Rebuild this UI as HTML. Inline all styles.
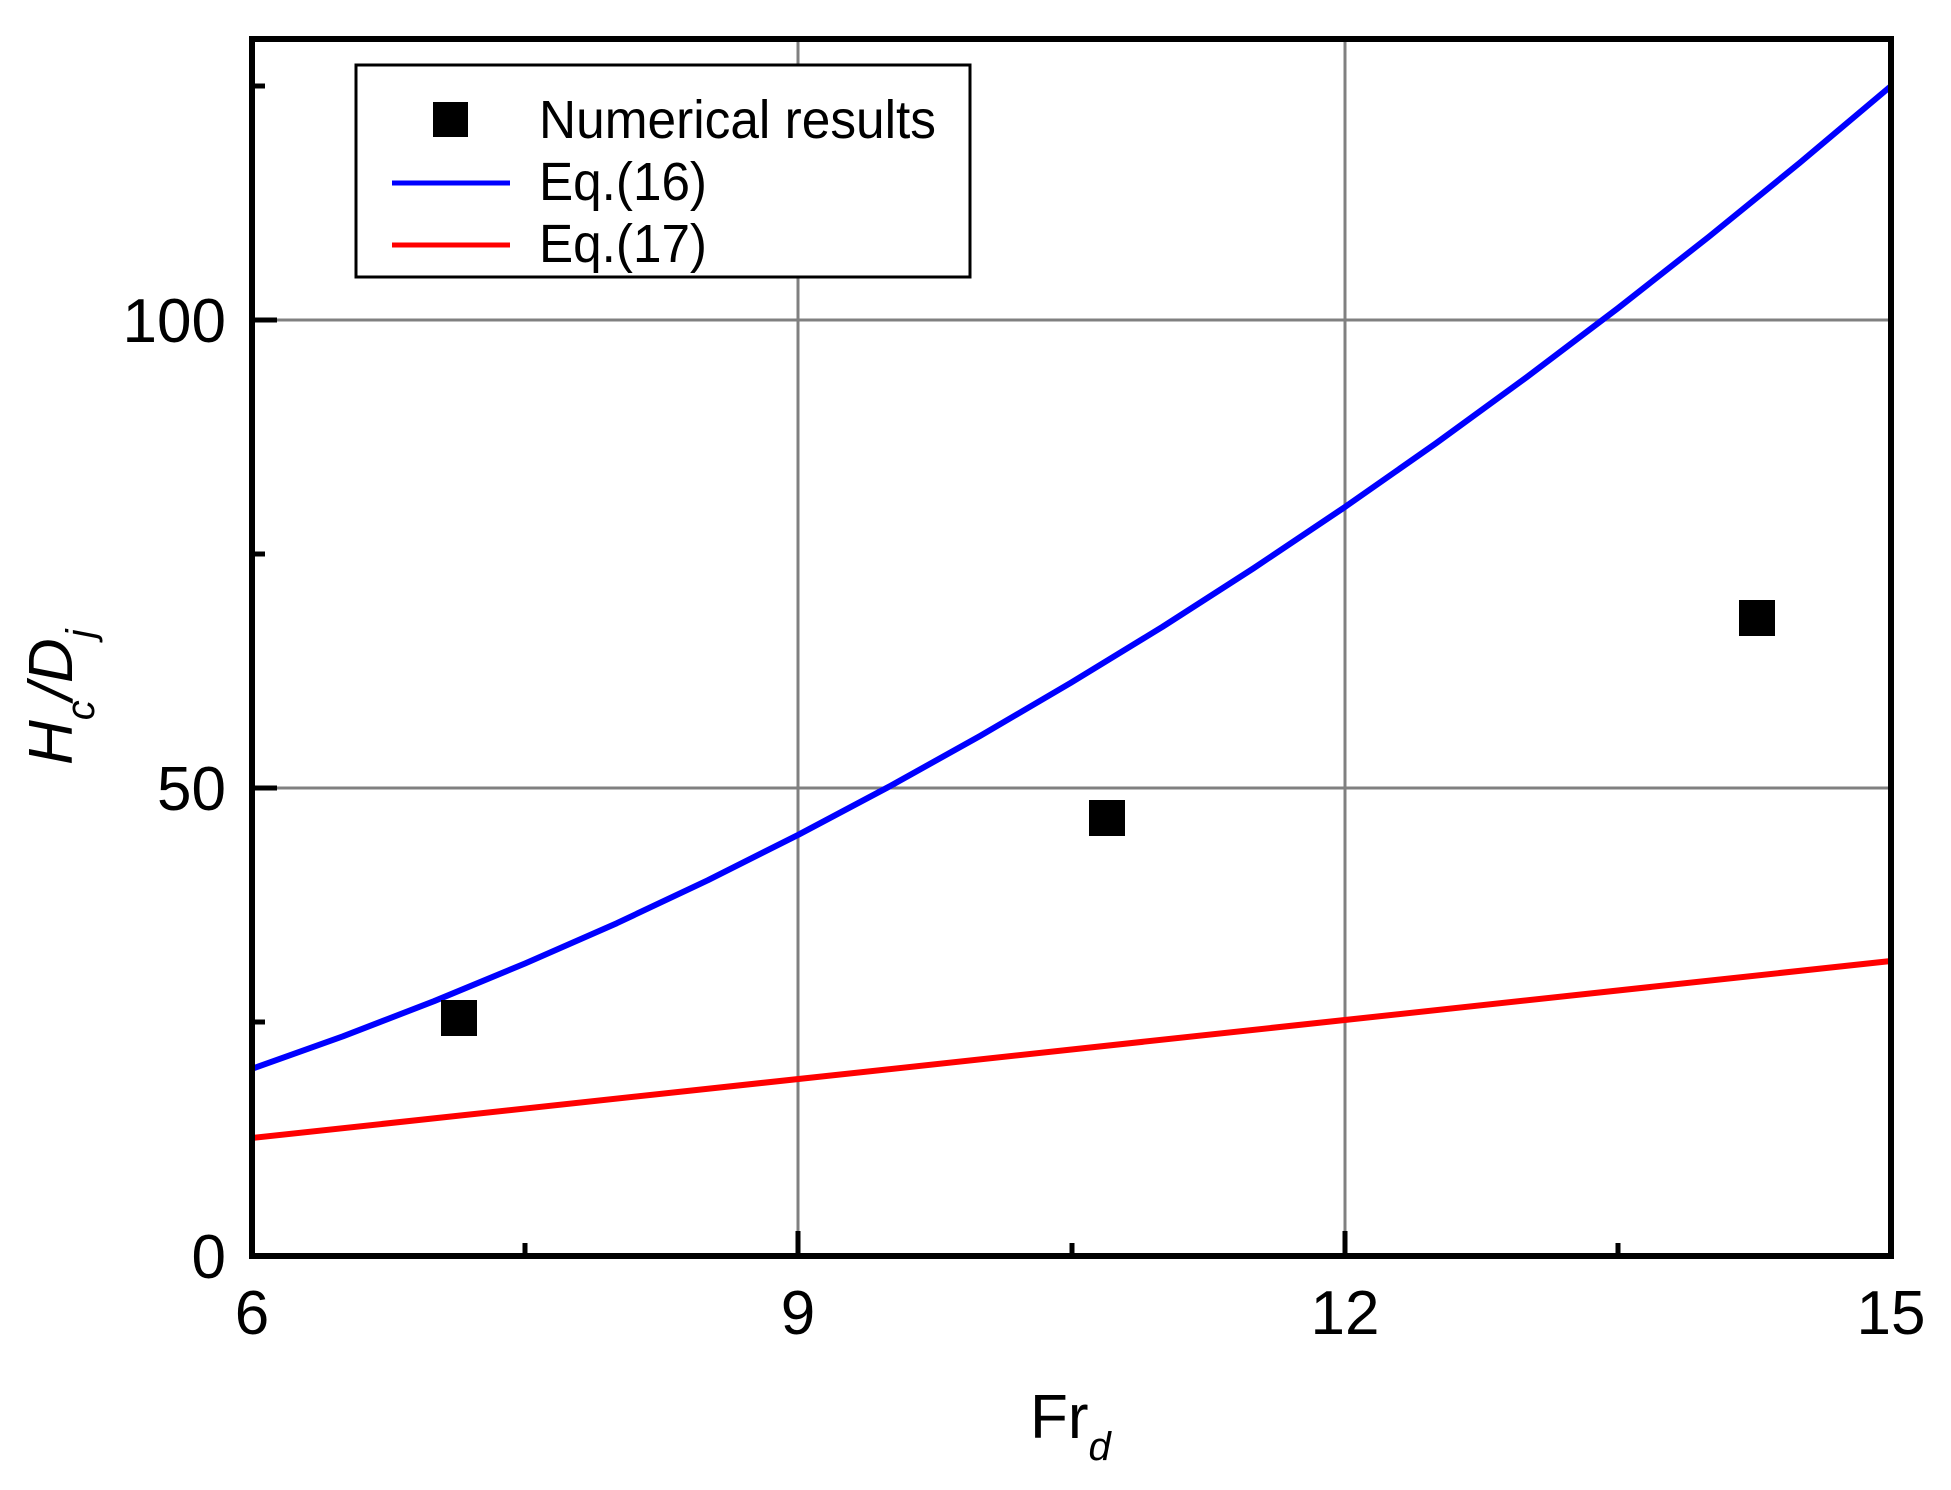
<!DOCTYPE html>
<html><head><meta charset="utf-8"><style>
html,body{margin:0;padding:0;background:#fff;}
svg{display:block;}
text{font-family:"Liberation Sans",Arial,sans-serif;fill:#000;}
</style></head><body>
<svg width="1951" height="1490" viewBox="0 0 1951 1490" xmlns="http://www.w3.org/2000/svg">
<rect width="1951" height="1490" fill="#fff"/>
<g stroke="#808080" stroke-width="3">
<line x1="798" y1="39" x2="798" y2="1256"/>
<line x1="1345" y1="39" x2="1345" y2="1256"/>
<line x1="252" y1="788" x2="1891" y2="788"/>
<line x1="252" y1="320" x2="1891" y2="320"/>
</g>
<g stroke="#000" stroke-width="5">
<line x1="252" y1="320" x2="277" y2="320"/>
<line x1="252" y1="788" x2="277" y2="788"/>
<line x1="252" y1="1022" x2="265" y2="1022"/>
<line x1="252" y1="554" x2="265" y2="554"/>
<line x1="252" y1="86" x2="265" y2="86"/>
<line x1="798" y1="1256" x2="798" y2="1231"/>
<line x1="1345" y1="1256" x2="1345" y2="1231"/>
<line x1="525" y1="1256" x2="525" y2="1243"/>
<line x1="1072" y1="1256" x2="1072" y2="1243"/>
<line x1="1618" y1="1256" x2="1618" y2="1243"/>
</g>
<polyline fill="none" stroke="#0000ff" stroke-width="6" stroke-linejoin="round" points="252,1068.8 343,1036.3 434,1001.2 525,963.5 616.8,923.2 707.7,880.3 798.3,834.8 889,786.7 980,736 1071,682.7 1162.5,626.8 1253.5,568.3 1344.6,507.2 1435.7,443.5 1526.7,377.2 1617.8,308.3 1708.8,236.8 1799.9,162.7 1891,86"/>
<polyline fill="none" stroke="#ff0000" stroke-width="6" points="252,1138 1891,961"/>
<rect x="441" y="1000" width="36" height="36" fill="#000"/>
<rect x="1089" y="800" width="36" height="36" fill="#000"/>
<rect x="1739" y="600" width="36" height="36" fill="#000"/>
<rect x="252" y="39" width="1639" height="1217" fill="none" stroke="#000" stroke-width="6"/>
<g font-size="62" text-anchor="middle">
<text x="252" y="1334">6</text>
<text x="798" y="1334">9</text>
<text x="1345" y="1334">12</text>
<text x="1891" y="1334">15</text>
</g>
<g font-size="62" text-anchor="end">
<text x="226" y="342">100</text>
<text x="226" y="810">50</text>
<text x="226" y="1278">0</text>
</g>
<text x="1030" y="1438" font-size="62">Fr<tspan font-size="40" font-style="italic" dy="22">d</tspan></text>
<text transform="translate(72,765) rotate(-90)" font-size="62" font-style="italic">H<tspan font-size="40" dy="22">c</tspan><tspan dy="-22">/D</tspan><tspan font-size="40" dy="22">j</tspan></text>
<rect x="356" y="65" width="614" height="212" fill="#fff" stroke="#000" stroke-width="3"/>
<rect x="433" y="102" width="35" height="35" fill="#000"/>
<line x1="392" y1="183" x2="510" y2="183" stroke="#0000ff" stroke-width="5"/>
<line x1="392" y1="245" x2="510" y2="245" stroke="#ff0000" stroke-width="5"/>
<g font-size="54">
<text x="539" y="138" textLength="397" lengthAdjust="spacingAndGlyphs">Numerical results</text>
<text x="539" y="200" textLength="168" lengthAdjust="spacingAndGlyphs">Eq.(16)</text>
<text x="539" y="262" textLength="168" lengthAdjust="spacingAndGlyphs">Eq.(17)</text>
</g>
</svg>
</body></html>
